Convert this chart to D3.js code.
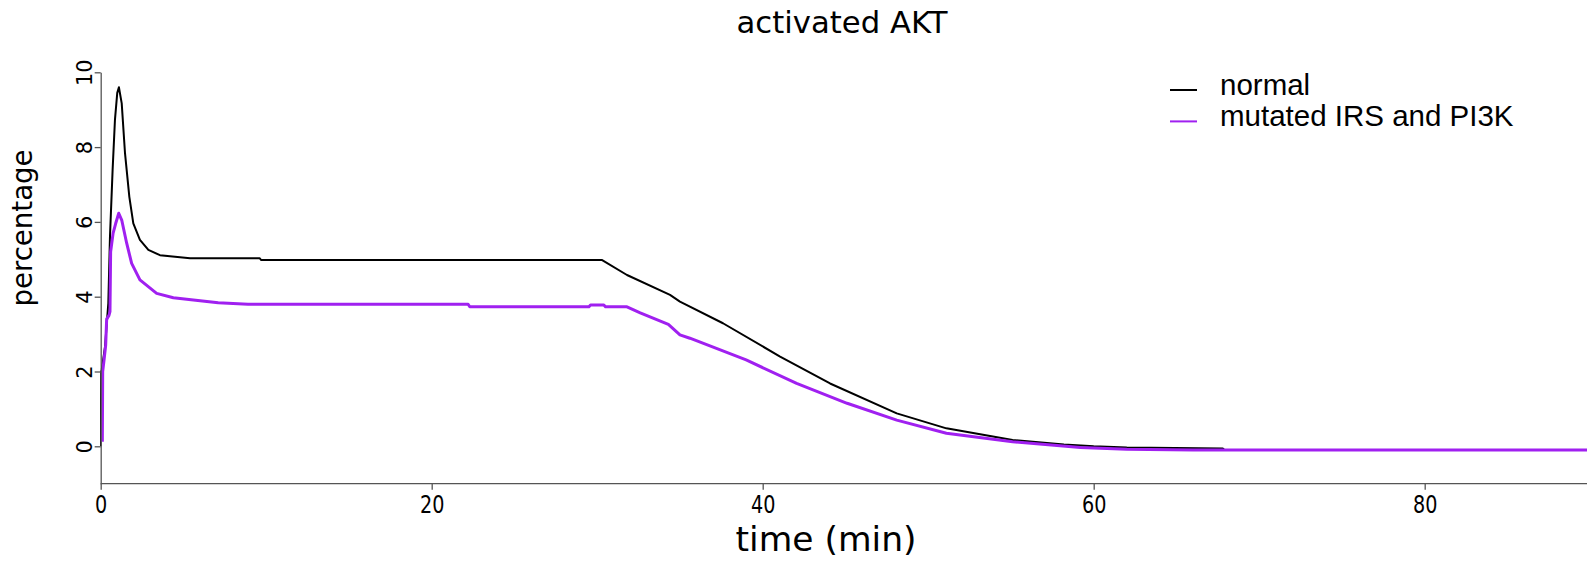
<!DOCTYPE html>
<html>
<head>
<meta charset="utf-8">
<script src="https://cdn.jsdelivr.net/npm/d3@7"></script>
<style>
  html, body { margin: 0; padding: 0; background: #fff; }
  svg { display: block; }
</style>
</head>
<body>
<div id="chart"></div>
<script>
const chartTitle = "activated AKT";
const xLabel = "time (min)";
const yLabel = "percentage";
const seriesNames = ["normal", "mutated IRS and PI3K"];
const seriesColors = ["#000000", "#a020f0"];
const xTicks = [0, 20, 40, 60, 80];
const yTicks = [0, 2, 4, 6, 8, 10];

// normal
const normalTime = [0, 0.03, 0.06, 0.26, 0.46, 0.56, 0.72, 0.86, 1.0, 1.1, 1.27, 1.47, 1.73, 1.97, 2.37, 2.88, 3.58, 5.4, 9.6, 9.7,
  30.3, 31.8, 34.4, 35.0, 37.6, 41.05, 44.07, 48.1, 51.1, 55.1, 58.2, 60, 62, 67.8, 67.9, 90];
const normalValue = [0, 2.0, 2.04, 2.66, 3.82, 5.6, 7.39, 8.72, 9.45, 9.6, 9.17, 7.83, 6.67, 5.96, 5.52, 5.25, 5.11, 5.03, 5.03, 4.98,
  4.98, 4.58, 4.05, 3.87, 3.29, 2.40, 1.68, 0.88, 0.48, 0.17, 0.05, 0.0, -0.03, -0.06, -0.1, -0.1];

// mutated IRS and PI3K
const mutantTime = [0.1, 0.12, 0.2, 0.3, 0.36, 0.5, 0.56, 0.6, 0.75, 0.9, 1.09, 1.27, 1.57, 1.87, 2.37, 3.38, 4.39, 5.6, 7.1, 8.9,
  22.2, 22.3, 29.5, 29.6, 30.4, 30.5, 31.8, 32.6, 34.3, 35.0, 35.6, 39.0, 42.05, 45.1, 48.1, 51.1, 55.1, 59.2, 62, 66, 90];
const mutantValue = [0.12, 2.0, 2.3, 2.7, 3.4, 3.5, 3.6, 5.2, 5.7, 5.95, 6.23, 6.05, 5.43, 4.89, 4.45, 4.09, 3.97, 3.91, 3.84, 3.80,
  3.80, 3.73, 3.73, 3.78, 3.78, 3.73, 3.73, 3.57, 3.26, 2.98, 2.89, 2.31, 1.68, 1.15, 0.70, 0.35, 0.12, -0.03, -0.08, -0.1, -0.1];

const W = 1587, H = 561;
const x = d3.scaleLinear().domain([0, 90]).range([100.7, 100.7 + 90 * 16.55]);
const y = d3.scaleLinear().domain([-1, 10]).range([483.7, 72.3]);

const svg = d3.select("#chart").append("svg").attr("width", W).attr("height", H);

// squeeze text horizontally, the source font looks narrow
function squeeze(sel, f) {
  sel.each(function () {
    const len = this.getComputedTextLength();
    d3.select(this).attr("textLength", len * f).attr("lengthAdjust", "spacingAndGlyphs");
  });
}

svg.append("defs").append("clipPath").attr("id", "plot")
  .append("rect").attr("x", 100).attr("y", 0).attr("width", W - 100).attr("height", 484);

const series = [
  { name: seriesNames[0], color: seriesColors[0], width: 2, pts: normalTime.map((t, i) => [t, normalValue[i]]) },
  { name: seriesNames[1], color: seriesColors[1], width: 3, pts: mutantTime.map((t, i) => [t, mutantValue[i]]) }
];

const line = d3.line().x(d => x(d[0])).y(d => y(d[1]));

svg.append("g").attr("clip-path", "url(#plot)")
  .selectAll("path").data(series).join("path")
  .attr("d", d => line(d.pts))
  .attr("fill", "none")
  .attr("stroke", d => d.color)
  .attr("stroke-width", d => d.width)
  .attr("stroke-linejoin", "round");

// axes
const axisFont = "'DejaVu Sans', sans-serif";
const gx = svg.append("g").attr("transform", `translate(0,${y(-1)})`)
  .call(d3.axisBottom(x).tickValues(xTicks).tickSize(6).tickSizeOuter(0).tickFormat(d3.format("d")));
const gy = svg.append("g").attr("transform", `translate(${x(0)},0)`)
  .call(d3.axisLeft(y).tickValues(yTicks).tickSize(6).tickSizeOuter(0).tickFormat(d3.format("d")));

[gx, gy].forEach(g => {
  g.select(".domain").attr("stroke", "#555").attr("stroke-width", 1.3);
  g.selectAll(".tick line").attr("stroke", "#555").attr("stroke-width", 1.3);
  g.selectAll(".tick text").attr("fill", "#000").style("font-family", axisFont);
});
gx.select(".domain").attr("d", `M${x(0)},0H${W}`);
gx.selectAll(".tick text").attr("y", 12).attr("dy", "0.71em").style("font-size", "24px").call(squeeze, 0.8);
gy.selectAll(".tick text")
  .attr("transform", "rotate(-90)")
  .attr("x", 0).attr("y", -9).attr("dy", 0)
  .attr("text-anchor", "middle")
  .style("font-size", "22px")
  .call(squeeze, 0.95);

// title and axis labels
svg.append("text").attr("x", 842).attr("y", 33).attr("text-anchor", "middle")
  .style("font-family", axisFont).style("font-size", "31px").text(chartTitle)
  .attr("textLength", 211).attr("lengthAdjust", "spacingAndGlyphs");
svg.append("text").attr("x", 826).attr("y", 551).attr("text-anchor", "middle")
  .style("font-family", axisFont).style("font-size", "33px").text(xLabel)
  .attr("textLength", 181).attr("lengthAdjust", "spacingAndGlyphs");
svg.append("text").attr("transform", `translate(32,228) rotate(-90)`).attr("text-anchor", "middle")
  .style("font-family", axisFont).style("font-size", "28.5px").text(yLabel)
  .attr("textLength", 157).attr("lengthAdjust", "spacingAndGlyphs");

// legend
const legend = svg.append("g").attr("transform", "translate(1170,90)");
const item = legend.selectAll("g").data(series).join("g").attr("transform", (d, i) => `translate(0,${i * 31.4})`);
item.append("line").attr("x1", 0).attr("x2", 27).attr("y1", 0).attr("y2", 0)
  .attr("stroke", d => d.color).attr("stroke-width", 2);
item.append("text").attr("x", 50).attr("y", 4.5)
  .style("font-family", "'Liberation Sans', Arial, sans-serif").style("font-size", "29.5px")
  .text(d => d.name);
</script>
</body>
</html>
